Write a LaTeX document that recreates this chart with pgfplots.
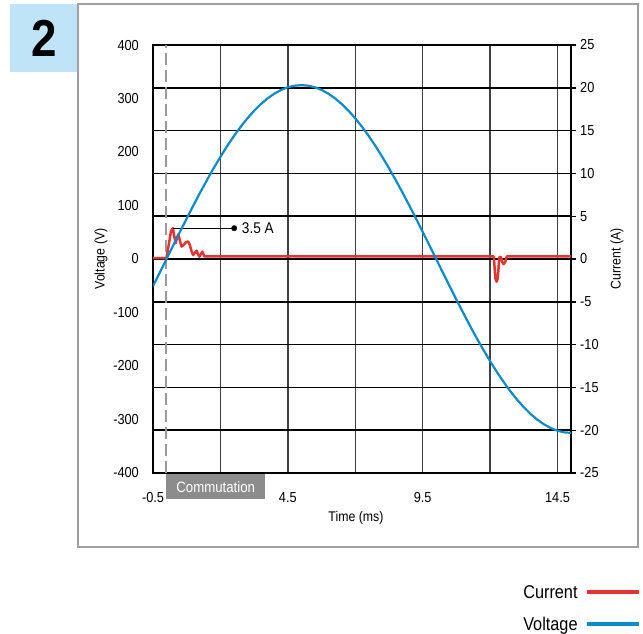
\documentclass[border=0pt]{standalone}
\usepackage{pgfplots}
\pgfplotsset{compat=1.18}
\usepackage{fontspec}
\setmainfont[FakeStretch=0.88]{Liberation Sans}
\definecolor{cred}{HTML}{E53331}
\definecolor{cblue}{HTML}{0A8BCB}
\definecolor{cbox}{HTML}{BFE4F8}
\definecolor{cframe}{HTML}{A0A0A0}
\definecolor{cgraybox}{HTML}{8C8C8C}
\definecolor{cdash}{HTML}{9A9A9A}
\begin{document}
\begin{tikzpicture}
\path[use as bounding box] (0pt,0pt) rectangle (643pt,-634pt);
\fill[cbox] (10pt,-4pt) rectangle (77pt,-72pt);
\node[font=\fontsize{52}{52}\selectfont\bfseries] at (44pt,-38pt) {2};
\draw[cframe, line width=1.2pt] (78pt,-4pt) rectangle (638pt,-547pt);

% Current axis (right) with grid
\begin{axis}[
  at={(153pt,-473pt)}, anchor=south west, scale only axis,
  width=418pt, height=428pt,
  xmin=-0.5, xmax=15, ymin=-25, ymax=25,
  xtick={-0.5,4.5,9.5,14.5}, xticklabels={-0.5,4.5,9.5,14.5},
  minor xtick={2,7,12},
  ytick={-25,-20,...,25},
  ytick pos=right, yticklabel pos=right, xtick pos=bottom,
  xmajorgrids, xminorgrids, ymajorgrids,
  major x grid style={black!75, line width=1.5pt},
  minor x grid style={black!75, line width=1.5pt},
  major y grid style={black, line width=1.6pt},
  axis line style={black, line width=1.8pt},
  tick align=outside,
  xtick style={draw=none}, minor tick length=0pt,
  ytick style={black, line width=1.4pt}, major tick length=5pt,
  /pgf/number format/assume math mode=true,
  tick label style={font=\fontsize{14.5}{14.5}\selectfont},
  yticklabel style={anchor=west, inner sep=0pt, xshift=4pt},
  xticklabel style={anchor=north, inner sep=0pt, yshift=-14.5pt},
  ylabel={Current (A)},
  ylabel style={at={(axis description cs:1.110,0.5)}, anchor=center, font=\fontsize{14}{14}\selectfont},
  xlabel={Time (ms)},
  xlabel style={at={(axis description cs:0.4856,-0.105)}, anchor=center, font=\fontsize{14}{14}\selectfont},
  legend style={at={(axis description cs:1.1675,-0.2570)}, anchor=north east, draw=none, fill=none,
    font=\fontsize{18.5}{18.5}\selectfont, row sep=13pt, inner sep=0pt, legend cell align=right},
  legend plot pos=right,
  legend image code/.code={\path (0pt,0pt); \draw[#1, line width=4pt] (6pt,0pt) -- (58pt,0pt);},
]
\addplot[cdash, line width=2pt, dash pattern=on 12pt off 5pt, forget plot] coordinates {(0,-25) (0,25)};
\addplot[cred, line width=2.5pt, line join=round] coordinates {
 (-0.5,0.1) (0,0.1) (0.08,1.6) (0.17,3.3) (0.24,3.6) (0.29,2.6) (0.34,1.85) (0.39,2.5) (0.44,2.9)
 (0.50,2.1) (0.56,1.45) (0.63,1.65) (0.72,1.95) (0.80,2.05) (0.86,1.7) (0.93,0.9) (0.99,0.47)
 (1.05,0.7) (1.12,0.97) (1.17,0.55) (1.22,0.27) (1.28,0.6) (1.33,0.86) (1.37,0.55) (1.41,0.3)
 (12.14,0.3) (12.17,-1.2) (12.20,-2.3) (12.24,-2.65) (12.28,-2.3) (12.31,-1.2) (12.34,0.2)
 (12.40,0.25) (12.45,-0.35) (12.50,-0.6) (12.56,-0.35) (12.62,0.3) (15,0.3)};
\addlegendentry{Current}
\addlegendimage{cblue, line width=2pt}
\addlegendentry{Voltage}
\addplot[black, line width=1.1pt, forget plot] coordinates {(0.24,3.6) (2.51,3.6)};
\addplot[black, only marks, mark=*, mark size=2.7pt, forget plot] coordinates {(2.51,3.6)};
\node[anchor=west, inner sep=0pt, font=\fontsize{15.5}{15.5}\selectfont] at (axis cs:2.79,3.55) {3.5 A};
\end{axis}

% Voltage axis (left)
\begin{axis}[
  at={(153pt,-473pt)}, anchor=south west, scale only axis,
  width=418pt, height=428pt,
  xmin=-0.5, xmax=15, ymin=-400, ymax=400,
  xtick=\empty, ytick={-400,-300,...,400}, ytick pos=left,
  major tick length=0pt,
  axis line style={draw=none},
  /pgf/number format/assume math mode=true,
  tick label style={font=\fontsize{14.5}{14.5}\selectfont},
  yticklabel style={anchor=east, inner sep=0pt, xshift=-14pt},
  ylabel={Voltage (V)},
  ylabel style={at={(axis description cs:-0.1244,0.5)}, anchor=center, font=\fontsize{14}{14}\selectfont},
]
\addplot[cblue, line width=2.2pt, line join=round] coordinates {
 (-0.5,-50.8) (-0.25,-25.5) (0,0) (0.25,25.5) (0.5,50.8) (0.75,75.9) (1,100.4)
 (1.25,124.4) (1.5,147.5) (1.75,169.8) (2,191.0) (2.25,211.1) (2.5,229.8)
 (2.75,247.1) (3,262.9) (3.25,277.1) (3.5,289.6) (3.75,300.3) (4,309.1)
 (4.25,316.0) (4.5,321.0) (4.75,324.0) (5,325) (5.25,324.0) (5.5,321.0)
 (5.75,316.0) (6,309.1) (6.25,300.3) (6.5,289.6) (6.75,277.1) (7,262.9)
 (7.25,247.1) (7.5,229.8) (7.75,211.1) (8,191.0) (8.25,169.8) (8.5,147.5)
 (8.75,124.4) (9,100.4) (9.25,75.9) (9.5,50.8) (9.75,25.5) (10,0)
 (10.25,-25.5) (10.5,-50.8) (10.75,-75.9) (11,-100.4) (11.25,-124.4)
 (11.5,-147.5) (11.75,-169.8) (12,-191.0) (12.25,-211.1) (12.5,-229.8)
 (12.75,-247.1) (13,-262.9) (13.25,-277.1) (13.5,-289.6) (13.75,-300.3)
 (14,-309.1) (14.25,-316.0) (14.5,-321.0) (14.75,-324.0) (15,-325)};
\end{axis}

\node[fill=cgraybox, text=white, minimum width=99pt, minimum height=25pt, inner sep=0pt,
  anchor=north west, font=\fontsize{15}{15}\selectfont] at (166pt,-474pt) {Commutation};
\end{tikzpicture}
\end{document}
